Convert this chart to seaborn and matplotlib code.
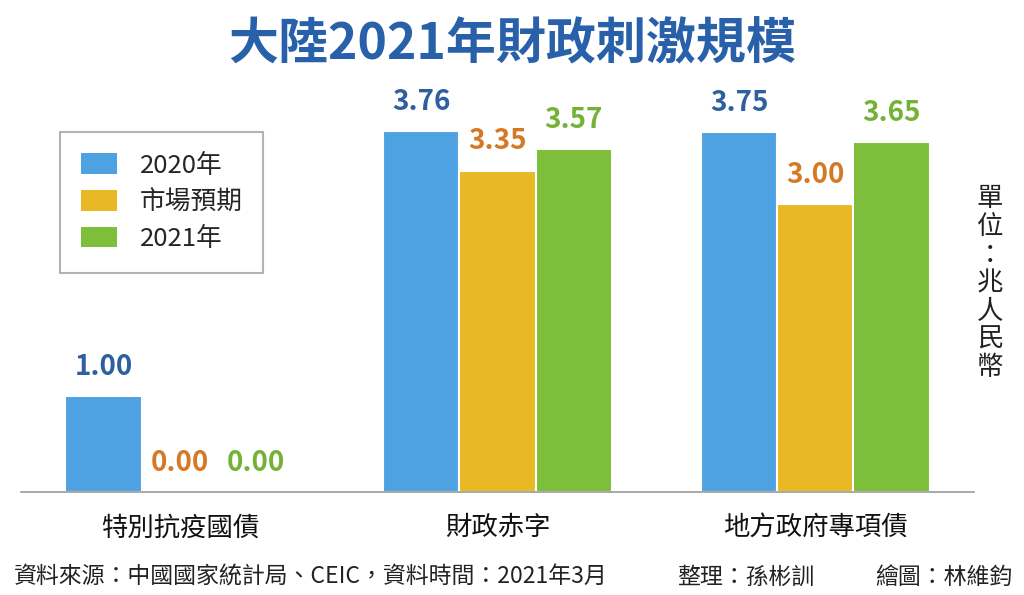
import matplotlib
matplotlib.use("Agg")
import matplotlib.pyplot as plt
import seaborn as sns
import pandas as pd

categories = ["特別抗疫國債", "財政赤字", "地方政府專項債"]
series = ["2020年", "市場預期", "2021年"]
values_2020 = [1.00, 3.76, 3.75]
values_expect = [0.00, 3.35, 3.00]
values_2021 = [0.00, 3.57, 3.65]

bar_colors = ["#4FA2E2", "#E8B825", "#7DBE3A"]
label_colors = ["#2E5F9E", "#D47A26", "#74B236"]

rows = []
for s, vals in zip(series, [values_2020, values_expect, values_2021]):
    for c, v in zip(categories, vals):
        rows.append({"類別": c, "系列": s, "值": v})
df = pd.DataFrame(rows)

sns.set_theme(style="white")
plt.rcParams["font.family"] = ["Noto Sans CJK TC", "DejaVu Sans"]

fig = plt.figure(figsize=(10.24, 5.95), dpi=100)
ax = fig.add_axes([21/1024, 103/595, 953/1024, 402/595])

sns.barplot(data=df, x="類別", y="值", hue="系列", order=categories,
            hue_order=series, palette=bar_colors, width=0.72,
            edgecolor="white", linewidth=1.5, saturation=1, ax=ax)

for cont, col in zip(ax.containers, label_colors):
    ax.bar_label(cont, labels=[f"{v:.2f}" for v in cont.datavalues],
                 padding=11, color=col, fontsize=20, fontweight="bold")

ax.set_xlim(-0.5, 2.5)
ax.set_ylim(0, 4.19)
ax.set_xlabel("")
ax.set_ylabel("")
ax.set_yticks([])
for side in ["top", "left", "right"]:
    ax.spines[side].set_visible(False)
ax.spines["bottom"].set_color("#9A9A9A")
ax.spines["bottom"].set_linewidth(1.2)
ax.set_xticks([-0.5, 0.5, 1.5, 2.5], minor=True)
ax.tick_params(axis="x", which="minor", length=11, width=1.2, color="#9A9A9A", direction="out")
ax.tick_params(axis="x", which="major", length=0, pad=16, labelsize=19, labelcolor="#111111")
for t in ax.get_xticklabels():
    t.set_fontweight("medium")

handles, labels = ax.get_legend_handles_labels()
leg = ax.legend(handles, labels, loc="upper left",
                bbox_to_anchor=(60/1024, 1 - 132/595), bbox_transform=fig.transFigure,
                fontsize=18.5, frameon=True, fancybox=False, edgecolor="#A0A0A0",
                handlelength=1.4, handleheight=0.85, handletextpad=0.9,
                labelspacing=0.42, borderpad=0.8, borderaxespad=0)
leg.get_frame().set_linewidth(1.5)
for h in leg.legend_handles:
    h.set_edgecolor("none")

fig.text(512/1024, 1 - 45/595, "大陸2021年財政刺激規模", ha="center", va="center",
         fontsize=36, fontweight="bold", color="#2861AA")

fig.text(990/1024, 1 - 283/595, "\n".join("單位：兆人民幣"), ha="center", va="center",
         fontsize=19, color="#222222", linespacing=1.05)

fig.text(14/1024, 1 - 577/595, "資料來源：中國國家統計局、CEIC，資料時間：2021年3月", ha="left", va="center",
         fontsize=16.5, color="#222222")
fig.text(677/1024, 1 - 577/595, "整理：孫彬訓", ha="left", va="center",
         fontsize=16.5, color="#222222")
fig.text(1012/1024, 1 - 577/595, "繪圖：林維鈞", ha="right", va="center",
         fontsize=16.5, color="#222222")

fig.savefig("out.png", dpi=100, facecolor="white")
